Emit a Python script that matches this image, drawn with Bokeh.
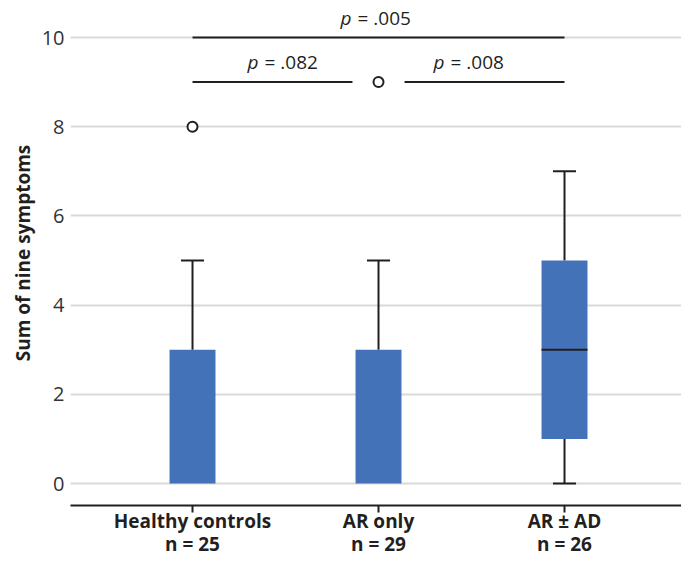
from bokeh.plotting import figure
from bokeh.models import Range1d, FixedTicker, ColumnDataSource, LinearAxis
from bokeh.core.properties import value
from bokeh.embed import file_html
from bokeh.resources import INLINE

# ---- data ----
groups = ["Healthy controls", "AR only", "AR \u00b1 AD"]
group_n = [25, 29, 26]
positions = [1, 2, 3]
q1 = [0, 0, 1]
median = [0, 0, 3]
q3 = [3, 3, 5]
lower = [0, 0, 0]
upper = [5, 5, 7]
outlier_x = [1, 2]
outlier_y = [8, 9]

bracket_start = [1, 1, 2]
bracket_end = [3, 2, 3]
bracket_level = [10, 9, 9]
bracket_p = ["= .005", "= .082", "= .008"]
y_ticks = [0, 2, 4, 6, 8, 10]

# ---- style ----
FONT = "Open Sans"
BOX_COLOR = "#4472B8"
INK = "#231f20"
BOX_W = 0.247
CAP_W = 0.124
GAP = 0.14  # gap of lower brackets around the middle outlier

p = figure(width=681, height=560, output_backend="svg", toolbar_location=None,
           x_range=Range1d(0.344, 3.629), y_range=Range1d(-0.493, 10.83),
           min_border_left=70, min_border_right=0, min_border_top=0, min_border_bottom=55)
p.outline_line_color = None
p.background_fill_color = "white"
p.border_fill_color = "white"

# grid
p.xgrid.grid_line_color = None
p.ygrid.grid_line_color = "#d9d9d9"
p.ygrid.grid_line_width = 2
p.ygrid.ticker = FixedTicker(ticks=y_ticks)

# y axis
p.yaxis.ticker = FixedTicker(ticks=y_ticks)
p.yaxis.axis_line_color = None
p.yaxis.major_tick_line_color = None
p.yaxis.minor_tick_line_color = None
p.yaxis.major_tick_in = 0
p.yaxis.major_tick_out = 0
p.yaxis.major_label_text_font = FONT
p.yaxis.major_label_text_font_size = "20px"
p.yaxis.major_label_text_color = "#333333"
p.yaxis.major_label_standoff = 6
p.yaxis.axis_label = "Sum of nine symptoms"
p.yaxis.axis_label_text_font = FONT
p.yaxis.axis_label_text_font_style = "bold"
p.yaxis.axis_label_text_font_size = "19px"
p.yaxis.axis_label_text_color = INK
p.yaxis.axis_label_standoff = 3

# x axis: group names
p.xaxis.ticker = FixedTicker(ticks=positions)
p.xaxis.major_label_overrides = {pos: g for pos, g in zip(positions, groups)}
p.xaxis.axis_line_color = INK
p.xaxis.axis_line_width = 2
p.xaxis.major_tick_line_color = INK
p.xaxis.major_tick_line_width = 2
p.xaxis.major_tick_in = 0
p.xaxis.major_tick_out = 7
p.xaxis.minor_tick_line_color = None
p.xaxis.major_label_text_font = FONT
p.xaxis.major_label_text_font_style = "bold"
p.xaxis.major_label_text_font_size = "19px"
p.xaxis.major_label_text_color = INK
p.xaxis.major_label_text_line_height = 1.0
p.xaxis.major_label_standoff = -5

# second row of x labels: group sizes
ax2 = LinearAxis(ticker=FixedTicker(ticks=positions),
                 major_label_overrides={pos: f"n = {n}" for pos, n in zip(positions, group_n)})
ax2.axis_line_color = None
ax2.major_tick_line_color = None
ax2.minor_tick_line_color = None
ax2.major_tick_in = 0
ax2.major_tick_out = 0
ax2.major_label_text_font = FONT
ax2.major_label_text_font_style = "bold"
ax2.major_label_text_font_size = "19px"
ax2.major_label_text_color = INK
ax2.major_label_text_line_height = 1.0
ax2.major_label_standoff = -6
p.add_layout(ax2, "below")

# whiskers
p.segment(x0=positions, y0=q3, x1=positions, y1=upper, line_color=INK, line_width=2)
low_idx = [i for i in range(3) if lower[i] < q1[i]]
p.segment(x0=[positions[i] for i in low_idx], y0=[q1[i] for i in low_idx],
          x1=[positions[i] for i in low_idx], y1=[lower[i] for i in low_idx],
          line_color=INK, line_width=2)
p.segment(x0=[x - CAP_W / 2 for x in positions], y0=upper,
          x1=[x + CAP_W / 2 for x in positions], y1=upper, line_color=INK, line_width=2)
p.segment(x0=[positions[i] - CAP_W / 2 for i in low_idx], y0=[lower[i] for i in low_idx],
          x1=[positions[i] + CAP_W / 2 for i in low_idx], y1=[lower[i] for i in low_idx],
          line_color=INK, line_width=2)

# boxes
p.vbar(x=positions, width=BOX_W, bottom=q1, top=q3, fill_color=BOX_COLOR, line_color=None)

# medians (only where visible inside the box)
med_idx = [i for i in range(3) if q1[i] < median[i] < q3[i]]
p.segment(x0=[positions[i] - BOX_W / 2 for i in med_idx], y0=[median[i] for i in med_idx],
          x1=[positions[i] + BOX_W / 2 for i in med_idx], y1=[median[i] for i in med_idx],
          line_color=INK, line_width=2)

# outliers
p.scatter(x=outlier_x, y=outlier_y, size=10, marker="circle", fill_color="white",
          line_color=INK, line_width=2)

# significance brackets
bx0, bx1 = [], []
for s, e, lvl in zip(bracket_start, bracket_end, bracket_level):
    others = [(s2, e2) for s2, e2, l2 in zip(bracket_start, bracket_end, bracket_level)
              if l2 == lvl and (s2, e2) != (s, e)]
    a = s + (GAP if any(e2 == s for _, e2 in others) else 0)
    b = e - (GAP if any(s2 == e for s2, _ in others) else 0)
    bx0.append(a)
    bx1.append(b)
p.segment(x0=bx0, y0=bracket_level, x1=bx1, y1=bracket_level, line_color=INK, line_width=2)

centers = [(s + e) / 2 for s, e in zip(bracket_start, bracket_end)]
src = ColumnDataSource(dict(x=centers, y=bracket_level, t=bracket_p, pt=["p"] * len(centers)))
p.text(x="x", y="y", text="pt", source=src, text_align="right", text_baseline="alphabetic",
       x_offset=-27, y_offset=-20, text_font=value(FONT), text_font_style="italic",
       text_font_size="19px", text_color=INK)
p.text(x="x", y="y", text="t", source=src, text_align="left", text_baseline="alphabetic",
       x_offset=-21, y_offset=-20, text_font=value(FONT),
       text_font_size="19px", text_color=INK)

open("out.html", "w").write(file_html(p, INLINE))
